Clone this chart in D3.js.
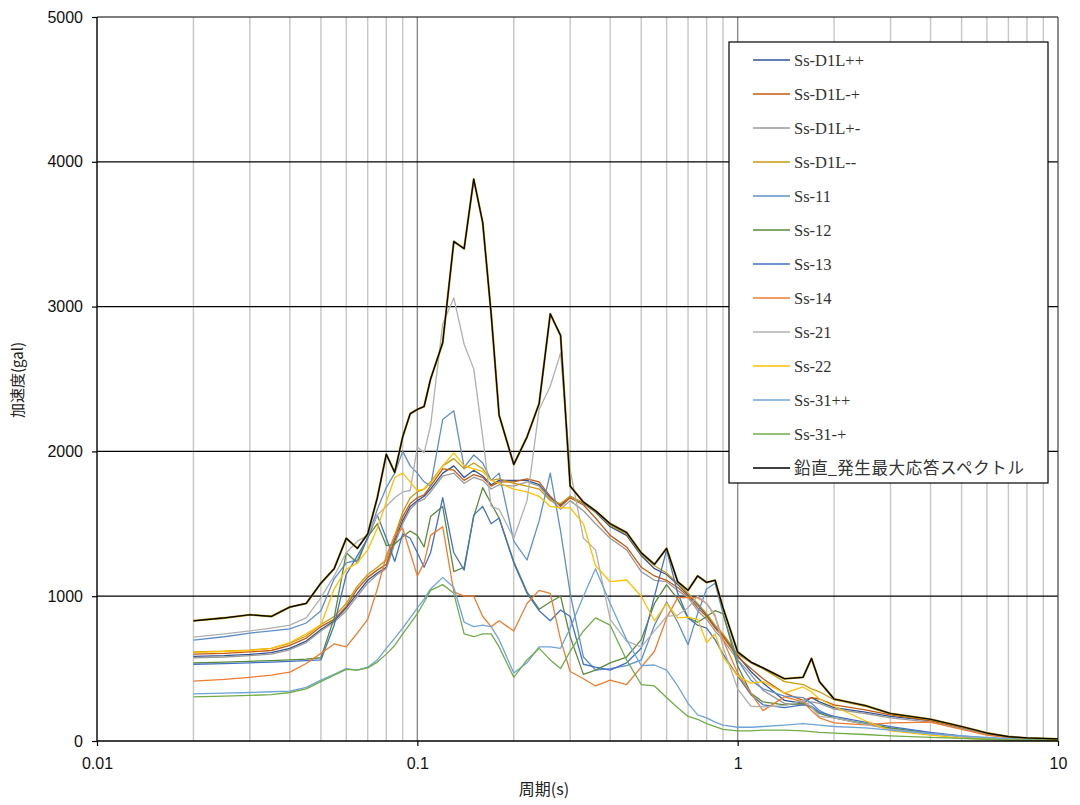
<!DOCTYPE html>
<html><head><meta charset="utf-8">
<script src="https://cdn.jsdelivr.net/npm/d3@7"></script>
<style>body{margin:0;background:#fff}</style>
</head><body><svg id="c" width="1080" height="805"></svg>
<script>
// ---- data ----
const periods = [0.02,0.025,0.03,0.035,0.04,0.045,0.05,0.055,0.06,0.065,0.07,0.075,0.08,0.085,0.09,0.095,
  0.1,0.105,0.11,
  0.12,0.13,0.14,0.15,0.16,0.17,0.18,
  0.2,0.22,0.24,0.26,0.28,0.3,
  0.33,0.36,0.4,0.45,0.5,0.55,0.6,0.65,0.7,0.75,0.8,0.85,0.9,
  1.0,1.1,1.2,1.4,1.6,1.7,1.8,2.0,
  2.5,3.0,4.0,5.0,6.0,7.0,8.0,10];

const ssD1Lpp = [585,590,598,610,640,690,770,830,920,1020,1110,1160,1200,1380,1520,1620,
  1660,1690,1740,
  1850,1900,1820,1870,1830,1770,1800,
  1800,1800,1770,1680,1630,1690,
  1640,1580,1480,1420,1280,1190,1150,1080,1010,940,870,790,730,
  590,480,400,280,260,300,270,230,
  200,170,140,90,50,28,18,11];
const ssD1Lmp = [600,605,615,625,660,710,790,840,930,1050,1130,1180,1220,1400,1550,1640,
  1680,1700,1760,
  1880,1870,1800,1840,1820,1760,1790,
  1790,1810,1790,1690,1620,1680,
  1630,1540,1420,1340,1200,1140,1110,1060,1000,920,860,780,720,
  580,500,430,330,280,300,290,250,
  215,180,140,95,52,28,18,11];
const ssD1Lpm = [575,580,590,600,630,680,760,820,900,1000,1090,1150,1190,1360,1500,1600,
  1650,1670,1720,
  1830,1850,1780,1820,1800,1740,1770,
  1760,1790,1760,1670,1600,1660,
  1590,1500,1400,1320,1170,1110,1100,1040,990,900,840,760,700,
  560,460,350,260,250,270,260,220,
  190,160,130,85,48,26,17,10];
const ssD1Lmm = [615,620,628,640,675,725,805,860,950,1070,1150,1200,1250,1420,1580,1680,
  1720,1740,1790,
  1900,1950,1880,1920,1880,1800,1810,
  1780,1760,1740,1660,1640,1690,
  1645,1585,1490,1430,1290,1210,1160,1090,1020,950,880,800,740,
  600,540,500,410,390,360,340,285,
  240,188,148,98,54,29,19,13];
const ss11 = [697,720,745,760,775,815,900,1120,1230,1250,1400,1600,1750,1850,2000,1900,
  1850,1790,1760,
  2220,2280,1890,1975,1920,1800,1850,
  1380,1250,1520,1850,1450,1020,
  580,490,500,520,560,800,960,820,665,880,1050,1090,880,
  560,420,360,310,300,260,210,160,
  115,85,55,32,20,12,8,5];
const ss12 = [540,545,550,555,560,565,575,850,1300,1230,1410,1500,1350,1360,1410,1450,
  1420,1340,1550,
  1620,1170,1200,1550,1750,1640,1540,
  1240,1030,910,960,1000,720,
  460,490,540,580,700,950,1080,980,850,820,860,900,880,
  520,330,270,250,260,230,190,160,
  120,90,55,30,18,10,7,4];
const ss13 = [530,535,540,545,550,555,560,800,1150,1280,1400,1560,1400,1240,1430,1400,
  1300,1200,1300,
  1680,1300,1180,1560,1620,1500,1540,
  1230,1020,900,830,905,860,
  530,510,490,540,640,1000,1320,1020,850,800,780,700,600,
  450,320,250,230,250,240,200,170,
  130,100,60,35,20,12,8,5];
const ss14 = [414,425,440,455,476,535,605,670,650,746,840,1050,1280,1420,1470,1300,
  1140,1230,1420,
  1480,1030,1000,1000,860,790,830,
  760,950,1040,1020,700,480,
  430,380,420,390,510,620,850,990,990,990,950,860,700,
  470,330,210,305,270,210,160,125,
  112,125,130,80,40,22,14,8];
const ss21 = [718,740,760,780,800,850,990,1140,1300,1380,1420,1560,1620,1680,1720,1730,
  2030,1990,2180,
  2880,3060,2740,2570,2100,1620,1600,
  1400,1660,2290,2450,2680,1870,
  1400,1320,840,690,650,760,860,870,920,1000,950,870,650,
  360,240,235,245,280,235,170,160,
  115,80,50,30,20,12,8,4];
const ss22 = [612,618,625,640,680,740,800,1050,1185,1230,1320,1470,1650,1820,1850,1790,
  1730,1740,1780,
  1900,1990,1900,1880,1860,1800,1780,
  1740,1720,1690,1620,1610,1610,
  1500,1210,1100,1112,1000,830,950,850,856,840,680,740,580,
  450,400,410,330,373,340,290,240,
  140,70,40,20,12,8,5,3];
const ss31pp = [325,330,335,340,345,370,420,460,500,490,510,560,640,710,780,850,
  920,980,1050,
  1130,1060,820,790,800,790,700,
  470,540,650,650,640,780,
  1000,1190,950,700,520,525,490,380,260,180,160,130,110,
  95,95,100,110,120,115,110,100,
  90,75,50,35,25,18,12,8];
const ss31mp = [305,310,315,320,335,360,410,455,495,490,505,545,600,660,740,810,
  880,960,1040,
  1080,1020,740,720,740,740,650,
  440,560,640,560,500,620,
  760,850,800,560,390,380,300,230,170,150,120,100,80,
  70,70,75,75,70,65,60,55,
  45,35,25,18,12,8,6,4];
const envelope = [830,850,872,860,925,950,1090,1190,1400,1330,1430,1680,1980,1855,2100,2260,
  2290,2310,2500,
  2750,3450,3400,3880,3580,2950,2250,
  1910,2100,2330,2950,2800,1760,
  1650,1590,1500,1440,1300,1220,1330,1100,1040,1140,1095,1110,920,
  615,545,505,430,440,570,410,290,
  245,190,150,100,55,30,21,14];

const seriesNames = ["Ss-D1L++","Ss-D1L-+","Ss-D1L+-","Ss-D1L--","Ss-11","Ss-12","Ss-13","Ss-14","Ss-21","Ss-22","Ss-31++","Ss-31-+","鉛直_発生最大応答スペクトル"];
const seriesValues = [ssD1Lpp,ssD1Lmp,ssD1Lpm,ssD1Lmm,ss11,ss12,ss13,ss14,ss21,ss22,ss31pp,ss31mp,envelope];
const seriesColors = ["#2F5597","#C55A11","#9A9A9A","#C99A0E","#5E8FC8","#5A8A3A","#4472C4","#ED7D31","#B0B0B0","#FFC000","#6FA4DA","#70AD47","#000000"];

const xTickValues = [0.01,0.1,1,10];
const xTickLabels = ["0.01","0.1","1","10"];
const yTickValues = [0,1000,2000,3000,4000,5000];
const xTitle = "周期(s)";
const yTitle = "加速度(gal)";

// ---- drawing ----
const svg = d3.select("#c");
const L = 97, R = 1058, T = 17, B = 741;
const x = d3.scaleLog().domain([0.01,10]).range([L,R]);
const y = d3.scaleLinear().domain([0,5000]).range([B,T]);

const minor = [];
[0.01,0.1,1].forEach(d=>{ for(let k=2;k<=9;k++) minor.push(d*k); });
const gGrid = svg.append("g");
gGrid.selectAll("line.mn").data(minor).join("line").attr("class","mn")
  .attr("x1",d=>x(d)).attr("x2",d=>x(d)).attr("y1",T).attr("y2",B)
  .attr("stroke","#c6c6c6").attr("stroke-width",1.4);
gGrid.selectAll("line.mj").data([0.1,1]).join("line").attr("class","mj")
  .attr("x1",d=>x(d)).attr("x2",d=>x(d)).attr("y1",T).attr("y2",B)
  .attr("stroke","#8c8c8c").attr("stroke-width",1.4);
gGrid.selectAll("line.h").data(yTickValues.filter(v=>v>0)).join("line").attr("class","h")
  .attr("x1",L).attr("x2",R).attr("y1",d=>y(d)).attr("y2",d=>y(d))
  .attr("stroke","#000").attr("stroke-width",1.2);
gGrid.append("line").attr("x1",R).attr("x2",R).attr("y1",T).attr("y2",B)
  .attr("stroke","#404040").attr("stroke-width",1.2);

const line = d3.line().x(d=>x(d[0])).y(d=>y(d[1]));
const gLines = svg.append("g").attr("fill","none");
seriesValues.forEach((vals,i)=>{
  const pts = periods.map((p,j)=>[p,vals[j]]);
  if (i === seriesValues.length-1) {
    gLines.append("path").attr("d",line(pts)).attr("stroke","#A08000").attr("stroke-width",2.1).attr("stroke-linejoin","round");
    gLines.append("path").attr("d",line(pts)).attr("stroke","#000").attr("stroke-width",1.2).attr("stroke-linejoin","round");
  } else {
    gLines.append("path").attr("d",line(pts)).attr("stroke",seriesColors[i]).attr("stroke-width",1.3).attr("stroke-linejoin","round");
  }
});

// axes
const fontAx = "'Liberation Sans', Arial, sans-serif";
const yAxis = svg.append("g").attr("transform",`translate(${L},0)`)
  .call(d3.axisLeft(y).tickValues(yTickValues).tickFormat(d3.format("d")).tickSize(5).tickPadding(9));
yAxis.select(".domain").remove();
yAxis.selectAll("line").attr("stroke","#000").attr("stroke-width",1.2);
yAxis.selectAll("text").attr("font-size",16).attr("font-family",fontAx).attr("fill","#111");

const xAxis = svg.append("g").attr("transform",`translate(0,${B})`)
  .call(d3.axisBottom(x).tickValues(xTickValues).tickFormat((d,i)=>xTickLabels[i]).tickSize(5).tickPadding(12));
xAxis.select(".domain").remove();
xAxis.selectAll("line").attr("stroke","#000").attr("stroke-width",1.2);
xAxis.selectAll("text").attr("font-size",16).attr("font-family",fontAx).attr("fill","#111");

svg.append("line").attr("x1",L).attr("x2",L).attr("y1",T).attr("y2",B).attr("stroke","#000").attr("stroke-width",1.4);
svg.append("line").attr("x1",L).attr("x2",R).attr("y1",B).attr("y2",B).attr("stroke","#000").attr("stroke-width",1.4);

svg.append("text").attr("x",544).attr("y",795).attr("text-anchor","middle")
  .attr("font-size",16).attr("font-family","'Noto Sans CJK JP', sans-serif").attr("fill","#222").text(xTitle);
svg.append("text").attr("transform","translate(23,380) rotate(-90)").attr("text-anchor","middle")
  .attr("font-size",15).attr("font-family","'Noto Sans CJK JP', sans-serif").attr("fill","#222").text(yTitle);

// legend
const lg = svg.append("g");
lg.append("rect").attr("x",729).attr("y",42).attr("width",319).attr("height",441)
  .attr("fill","#fff").attr("stroke","#000").attr("stroke-width",1.2);
seriesNames.forEach((n,i)=>{
  const yy = 60 + i*34;
  lg.append("line").attr("x1",753).attr("x2",790).attr("y1",yy).attr("y2",yy)
    .attr("stroke",seriesColors[i]).attr("stroke-width",1.6);
  const t = lg.append("text").attr("x",794).attr("y",yy).attr("dy","0.36em")
    .attr("font-size",16.5).attr("font-family","'Liberation Serif', 'Noto Sans CJK JP', serif")
    .attr("fill","#333").text(n);
  if (i === seriesNames.length-1) t.attr("textLength",230).attr("lengthAdjust","spacing");
});
</script>
</body></html>
